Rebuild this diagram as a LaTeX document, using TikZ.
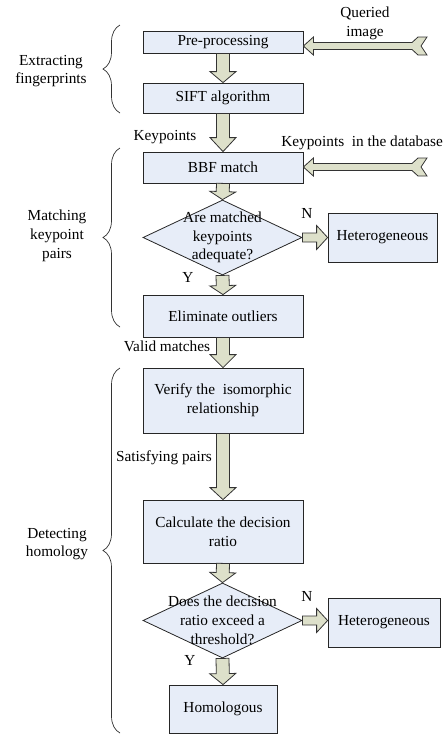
\documentclass[tikz,border=0pt]{standalone}
\usepackage{fontspec}
\setmainfont{Liberation Serif}
\usetikzlibrary{calc,shapes.geometric,decorations.pathreplacing}
\definecolor{boxfill}{RGB}{231,237,248}
\definecolor{arrfill}{RGB}{221,224,202}
\tikzset{
  ash/.store in=\ash, ahw/.store in=\ahw, ahl/.store in=\ahl,
  ash=6.5pt, ahw=13pt, ahl=11pt,
  lbl/.style={inner sep=0pt, align=center},
  block/.style={draw=black!85, fill=boxfill, line width=0.8pt, minimum width=160pt, inner sep=0pt, align=center},
  decide/.style={diamond, draw=black!85, fill=boxfill, line width=0.8pt, minimum width=159pt, minimum height=75pt, inner sep=0pt},
  brc/.style={decorate, decoration={brace, amplitude=17pt}, line width=0.7pt, draw=black!80},
  fatbase/.style={draw=black!80, fill=arrfill, line width=0.8pt, line join=miter},
  fat/.style={fatbase, to path={
      ($(\tikztostart)!\ash!90:(\tikztotarget)$)
      -- ($(\tikztotarget)!\ahl!(\tikztostart)!\ash!90:(\tikztotarget)$)
      -- ($(\tikztotarget)!\ahl!(\tikztostart)!\ahw!90:(\tikztotarget)$)
      -- (\tikztotarget)
      -- ($(\tikztotarget)!\ahl!(\tikztostart)!\ahw!-90:(\tikztotarget)$)
      -- ($(\tikztotarget)!\ahl!(\tikztostart)!\ash!-90:(\tikztotarget)$)
      -- ($(\tikztostart)!\ash!-90:(\tikztotarget)$) -- cycle}},
  fattail/.style={fatbase, to path={
      ($(\tikztostart)!15pt!(\tikztotarget)!\ash!90:(\tikztotarget)$)
      -- ($(\tikztotarget)!\ahl!(\tikztostart)!\ash!90:(\tikztotarget)$)
      -- ($(\tikztotarget)!\ahl!(\tikztostart)!\ahw!90:(\tikztotarget)$)
      -- (\tikztotarget)
      -- ($(\tikztotarget)!\ahl!(\tikztostart)!\ahw!-90:(\tikztotarget)$)
      -- ($(\tikztotarget)!\ahl!(\tikztostart)!\ash!-90:(\tikztotarget)$)
      -- ($(\tikztostart)!15pt!(\tikztotarget)!\ash!-90:(\tikztotarget)$)
      -- ($(\tikztostart)!9pt!(\tikztotarget)!\ahw!-90:(\tikztotarget)$)
      -- ($(\tikztostart)!\ahw!-90:(\tikztotarget)$)
      -- ($(\tikztostart)!6pt!(\tikztotarget)$)
      -- ($(\tikztostart)!\ahw!90:(\tikztotarget)$)
      -- ($(\tikztostart)!9pt!(\tikztotarget)!\ahw!90:(\tikztotarget)$) -- cycle}},
}
\begin{document}
\begin{tikzpicture}[x=1pt,y=-1pt,font=\fontsize{15.3}{18.8}\selectfont]
  \useasboundingbox (0,0) rectangle (444,734);
  % main column
  \node[block, minimum height=22pt] (pre) at (223,42) {Pre-processing};
  \node[block, minimum height=30pt] (sift) at (223,98) {SIFT algorithm};
  \node[block, minimum height=31pt] (bbf) at (223,167.5) {BBF match};
  \node[decide, label={[lbl]center:Are matched\\keypoints\\adequate?}] (adequ) at (222.5,237.5) {};
  \node[block, minimum width=109pt, minimum height=49pt] (hetA) at (382.5,237.5) {Heterogeneous};
  \node[block, minimum height=42pt] (elim) at (223,316) {Eliminate outliers};
  \node[block, minimum height=65pt] (verify) at (223,400.5) {Verify the\ \ isomorphic\\relationship};
  \node[block, minimum height=63pt] (ratio) at (223,531.5) {Calculate the decision\\ratio};
  \node[decide, label={[lbl]center:Does the decision\\ratio exceed a\\threshold?}] (thresh) at (222.5,620.5) {};
  \node[block, minimum width=112pt, minimum height=49pt] (hetB) at (384,622.5) {Heterogeneous};
  \node[block, minimum width=108pt, minimum height=48pt] (homol) at (223,709) {Homologous};

  % inputs
  \coordinate (qsrc) at (427,46);
  \coordinate (dbsrc) at (427,167);
  \draw[fattail, ash=3.5pt, ahw=9pt, ahl=10pt] (qsrc) to (pre.east |- qsrc);
  \draw[fattail, ash=3.5pt, ahw=9pt, ahl=10pt] (dbsrc) to (bbf.east |- dbsrc);

  \draw[fat] (pre.south) to (sift.north);
  \draw[fat, ahl=14pt] (sift.south) to (bbf.north);
  \draw[fat, ahl=8pt] (bbf.south) to (adequ.north);
  \draw[fat, ahl=9pt] (adequ.south) to (elim.north);
  \draw[fat, ahl=13pt] (elim.south) to (verify.north);
  \draw[fat, ahl=12pt] (verify.south) to (ratio.north);
  \draw[fat, ahl=10pt] (ratio.south) to (thresh.north);
  \draw[fat] (thresh.south) to (homol.north);
  \draw[fat, ash=4.5pt, ahw=12pt] (adequ.east) to (adequ.east -| hetA.west);
  \draw[fat, ash=4.5pt, ahw=12pt] (thresh.east) to (thresh.east -| hetB.west);

  \node[lbl] (queried) at (365,23) {Queried\\image};
  \node[lbl] (kpts) at (165,137) {Keypoints};
  \node[lbl, anchor=east] (kpdb) at (443,143) {Keypoints\ \ in the database};
  \node[lbl] (nA) at (307,213) {N};
  \node[lbl] (yA) at (188,277) {Y};
  \node[lbl] (valid) at (167,346) {Valid matches};
  \node[lbl] (satis) at (164,458) {Satisfying pairs};
  \node[lbl] (nB) at (307,596) {N};
  \node[lbl] (yB) at (190,660) {Y};

  % stages
  \draw[brc] (120,113) -- (120,25);
  \draw[brc] (120,327) -- (120,148);
  \draw[brc] (120,733) -- (120,368);
  \node[lbl] (grpA) at (51,71) {Extracting\\fingerprints};
  \node[lbl] (grpB) at (57,236) {Matching\\keypoint\\pairs};
  \node[lbl] (grpC) at (57,544) {Detecting\\homology};
\end{tikzpicture}
\end{document}
